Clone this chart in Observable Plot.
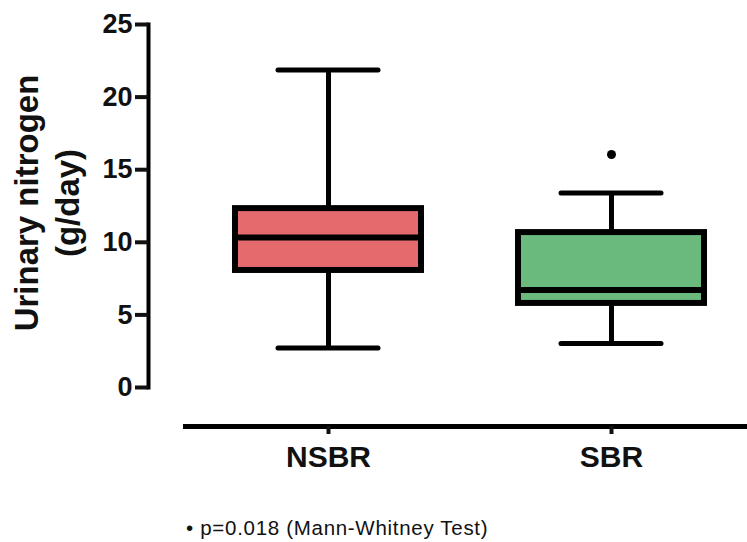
<!DOCTYPE html>
<html><head><meta charset="utf-8">
<script src="https://cdn.jsdelivr.net/npm/d3@7"></script>
<script src="https://cdn.jsdelivr.net/npm/@observablehq/plot@0.6"></script>
<style>
body{margin:0;background:#fff;width:747px;height:542px;position:relative;overflow:hidden;font-family:"Liberation Sans",Arial,sans-serif}
#caption{position:absolute;left:186px;top:516px;font-size:20.5px;letter-spacing:0.7px;color:#111;white-space:nowrap}
</style></head><body>
<div id="chart"></div>
<div id="caption"></div>
<script>
const groups = ["NSBR", "SBR"];
const whiskerLow = [2.72, 3.03];
const q1 = [8.06, 5.79];
const median = [10.33, 6.71];
const q3 = [12.32, 10.67];
const whiskerHigh = [21.87, 13.4];
const fills = ["#e56a6e", "#6aba7e"];
const outlierGroup = ["SBR"];
const outlierValue = [16.05];
const yTicks = [0, 5, 10, 15, 20, 25];
const yTitle = "Urinary nitrogen\n(g/day)";
const captionText = "\u2022 p=0.018 (Mann-Whitney Test)";

const rows = groups.map((g, i) => ({group: g, lo: whiskerLow[i], q1: q1[i], med: median[i], q3: q3[i], hi: whiskerHigh[i]}));
const outliers = outlierGroup.map((g, i) => ({group: g, value: outlierValue[i]}));

const chart = Plot.plot({
  width: 747,
  height: 490,
  marginTop: 24,
  marginBottom: 103,
  marginLeft: 148,
  marginRight: 0,
  style: {fontFamily: "'Liberation Sans', Arial, sans-serif", color: "#111", background: "#fff"},
  x: {type: "band", domain: groups, range: [234.5, 704], paddingInner: 0.344, paddingOuter: 0},
  y: {domain: [0, 25]},
  color: {domain: groups, range: fills},
  marks: [
    Plot.ruleX(rows, {x: "group", y1: "lo", y2: "hi", stroke: "#000", strokeWidth: 5}),
    Plot.barY(rows, {x: "group", y1: "q1", y2: "q3", fill: "group", stroke: "#000", strokeWidth: 6}),
    Plot.tickY(rows, {x: "group", y: "med", stroke: "#000", strokeWidth: 6}),
    Plot.tickY(rows, {x: "group", y: "lo", stroke: "#000", strokeWidth: 5, inset: 43, strokeLinecap: "round"}),
    Plot.tickY(rows, {x: "group", y: "hi", stroke: "#000", strokeWidth: 5, inset: 43, strokeLinecap: "round"}),
    Plot.dot(outliers, {x: "group", y: "value", r: 4.5, fill: "#000"}),
    Plot.frame({anchor: "left", stroke: "#000", strokeWidth: 4}),
    Plot.axisY({ticks: yTicks, tickSize: 13, tickPadding: 3, strokeWidth: 4, fontSize: 27, fontWeight: "bold", label: null}),
    Plot.ruleY([0], {dy: 39, insetLeft: 35, stroke: "#000", strokeWidth: 5}),
    Plot.axisX({dy: 39, tickSize: 8, tickPadding: 11, strokeWidth: 4, fontSize: 30, fontWeight: "bold", label: null}),
    Plot.text([yTitle], {text: d => d, frameAnchor: "left", textAnchor: "middle", lineAnchor: "middle", rotate: -90, dx: -103, dy: -3, fontSize: 33, fontWeight: "bold", lineHeight: 1.25, fill: "#111"})
  ]
});
document.getElementById("chart").appendChild(chart);
document.getElementById("caption").textContent = captionText;
</script>
</body></html>
